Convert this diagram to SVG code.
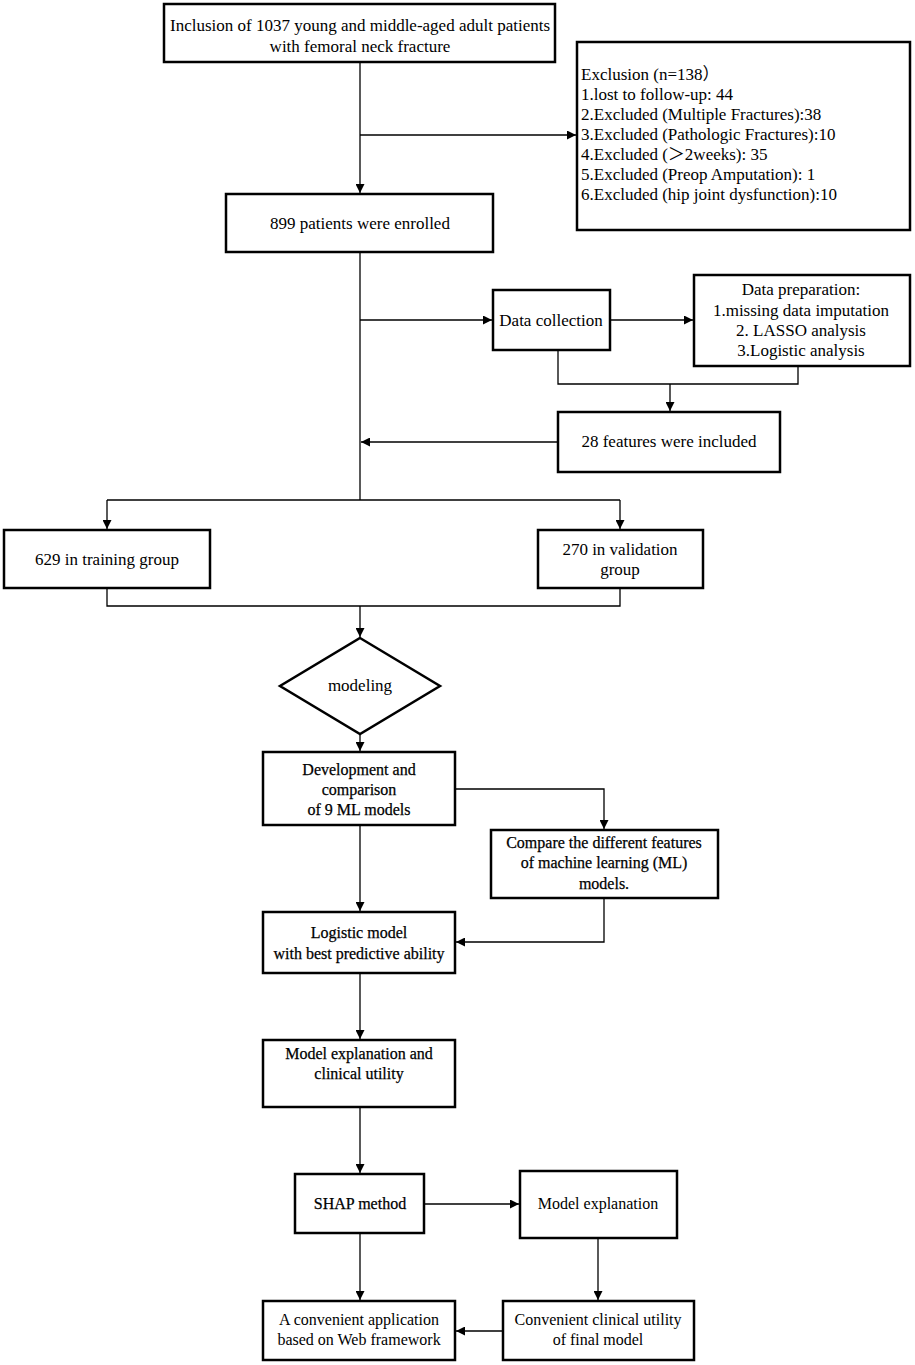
<svg xmlns="http://www.w3.org/2000/svg" width="915" height="1365" viewBox="0 0 915 1365">
<defs>
<marker id="ah" viewBox="0 0 10 10" refX="10" refY="5" markerWidth="10" markerHeight="9" markerUnits="userSpaceOnUse" orient="auto">
<path d="M0,0 L10,5 L0,10 z" fill="#000"/>
</marker>
<style>
.box{fill:#fff;stroke:#000;stroke-width:2.5}
.ln{fill:none;stroke:#000;stroke-width:1.3}
.ar{fill:none;stroke:#000;stroke-width:1.3;marker-end:url(#ah)}
text{font-family:"Liberation Serif","Noto Sans CJK SC",serif;font-size:16px;fill:#000}
.u{font-size:17px}
.c{text-anchor:middle}
.h{stroke:#000;stroke-width:0.25}
</style>
</defs>
<rect width="915" height="1365" fill="#fff"/>
<g id="connectors">
<path class="ar" d="M360,62 V193"/>
<path class="ar" d="M360,135 H576"/>
<path class="ln" d="M360,252 V500"/>
<path class="ar" d="M360,320 H492"/>
<path class="ar" d="M610,320 H693"/>
<path class="ln" d="M558,350 V384 H798 V366"/>
<path class="ar" d="M670,384 V411"/>
<path class="ar" d="M558,442 H361"/>
<path class="ln" d="M107,500 H620"/>
<path class="ar" d="M107,500 V529"/>
<path class="ar" d="M620,500 V529"/>
<path class="ln" d="M107,588 V606 H620 V588"/>
<path class="ar" d="M360,606 V637"/>
<path class="ar" d="M360,734 V751"/>
<path class="ar" d="M455,789 H604 V829"/>
<path class="ar" d="M360,825 V911"/>
<path class="ar" d="M604,898 V942 H456"/>
<path class="ar" d="M360,973 V1039"/>
<path class="ar" d="M360,1107 V1173"/>
<path class="ar" d="M424,1204 H519"/>
<path class="ar" d="M598,1238 V1300"/>
<path class="ar" d="M360,1233 V1300"/>
<path class="ar" d="M503,1331 H456"/>
</g>
<g id="inclusion">
<rect class="box" x="164" y="4" width="391" height="58"/>
<text class="c u" x="360" y="31">Inclusion of 1037 young and middle-aged adult patients</text>
<text class="c u" x="360" y="52">with femoral neck fracture</text>
</g>
<g id="exclusion">
<rect class="box" x="577" y="42" width="333" height="188"/>
<text class="u" x="581" y="80">Exclusion (n=138）</text>
<text class="u" x="581" y="100">1.lost to follow-up: 44</text>
<text class="u" x="581" y="120">2.Excluded (Multiple Fractures):38</text>
<text class="u" x="581" y="140">3.Excluded (Pathologic Fractures):10</text>
<text class="u" x="581" y="160">4.Excluded (＞2weeks): 35</text>
<text class="u" x="581" y="180">5.Excluded (Preop Amputation): 1</text>
<text class="u" x="581" y="200">6.Excluded (hip joint dysfunction):10</text>
</g>
<g id="enrolled">
<rect class="box" x="226" y="194" width="267" height="58"/>
<text class="c u" x="360" y="229">899 patients were enrolled</text>
</g>
<g id="datacollection">
<rect class="box" x="493" y="290" width="117" height="60"/>
<text class="c u" x="551" y="326">Data collection</text>
</g>
<g id="dataprep">
<rect class="box" x="694" y="275" width="216" height="91"/>
<text class="c u" x="801" y="295">Data preparation:</text>
<text class="c u" x="801" y="316">1.missing data imputation</text>
<text class="c u" x="801" y="336">2. LASSO analysis</text>
<text class="c u" x="801" y="356">3.Logistic analysis</text>
</g>
<g id="features">
<rect class="box" x="558" y="412" width="222" height="60"/>
<text class="c u" x="669" y="447">28 features were included</text>
</g>
<g id="training">
<rect class="box" x="4" y="530" width="206" height="58"/>
<text class="c u" x="107" y="565">629 in training group</text>
</g>
<g id="validation">
<rect class="box" x="538" y="530" width="165" height="58"/>
<text class="c u" x="620" y="555">270 in validation</text>
<text class="c u" x="620" y="575">group</text>
</g>
<g id="modeling">
<path class="box" d="M360,638 L440,686 L360,734 L280,686 z"/>
<text class="c u" x="360" y="691">modeling</text>
</g>
<g id="development">
<rect class="box" x="263" y="752" width="192" height="73"/>
<text class="c h" x="359" y="775">Development and</text>
<text class="c h" x="359" y="795">comparison</text>
<text class="c h" x="359" y="815">of 9 ML models</text>
</g>
<g id="compare">
<rect class="box" x="491" y="830" width="227" height="68"/>
<text class="c h" x="604" y="848">Compare the different features</text>
<text class="c h" x="604" y="868">of machine learning (ML)</text>
<text class="c h" x="604" y="889">models.</text>
</g>
<g id="logistic">
<rect class="box" x="263" y="912" width="192" height="61"/>
<text class="c h" x="359" y="938">Logistic model</text>
<text class="c h" x="359" y="959">with best predictive ability</text>
</g>
<g id="explanation-utility">
<rect class="box" x="263" y="1040" width="192" height="67"/>
<text class="c h" x="359" y="1059">Model explanation and</text>
<text class="c h" x="359" y="1079">clinical utility</text>
</g>
<g id="shap">
<rect class="box" x="295" y="1174" width="129" height="59"/>
<text class="c h" x="360" y="1209">SHAP method</text>
</g>
<g id="model-explanation">
<rect class="box" x="520" y="1171" width="157" height="67"/>
<text class="c" x="598" y="1209">Model explanation</text>
</g>
<g id="convenient-utility">
<rect class="box" x="503" y="1301" width="191" height="59"/>
<text class="c" x="598" y="1325">Convenient clinical utility</text>
<text class="c" x="598" y="1345">of final model</text>
</g>
<g id="application">
<rect class="box" x="263" y="1301" width="192" height="59"/>
<text class="c" x="359" y="1325">A convenient application</text>
<text class="c" x="359" y="1345">based on Web framework</text>
</g>
</svg>
